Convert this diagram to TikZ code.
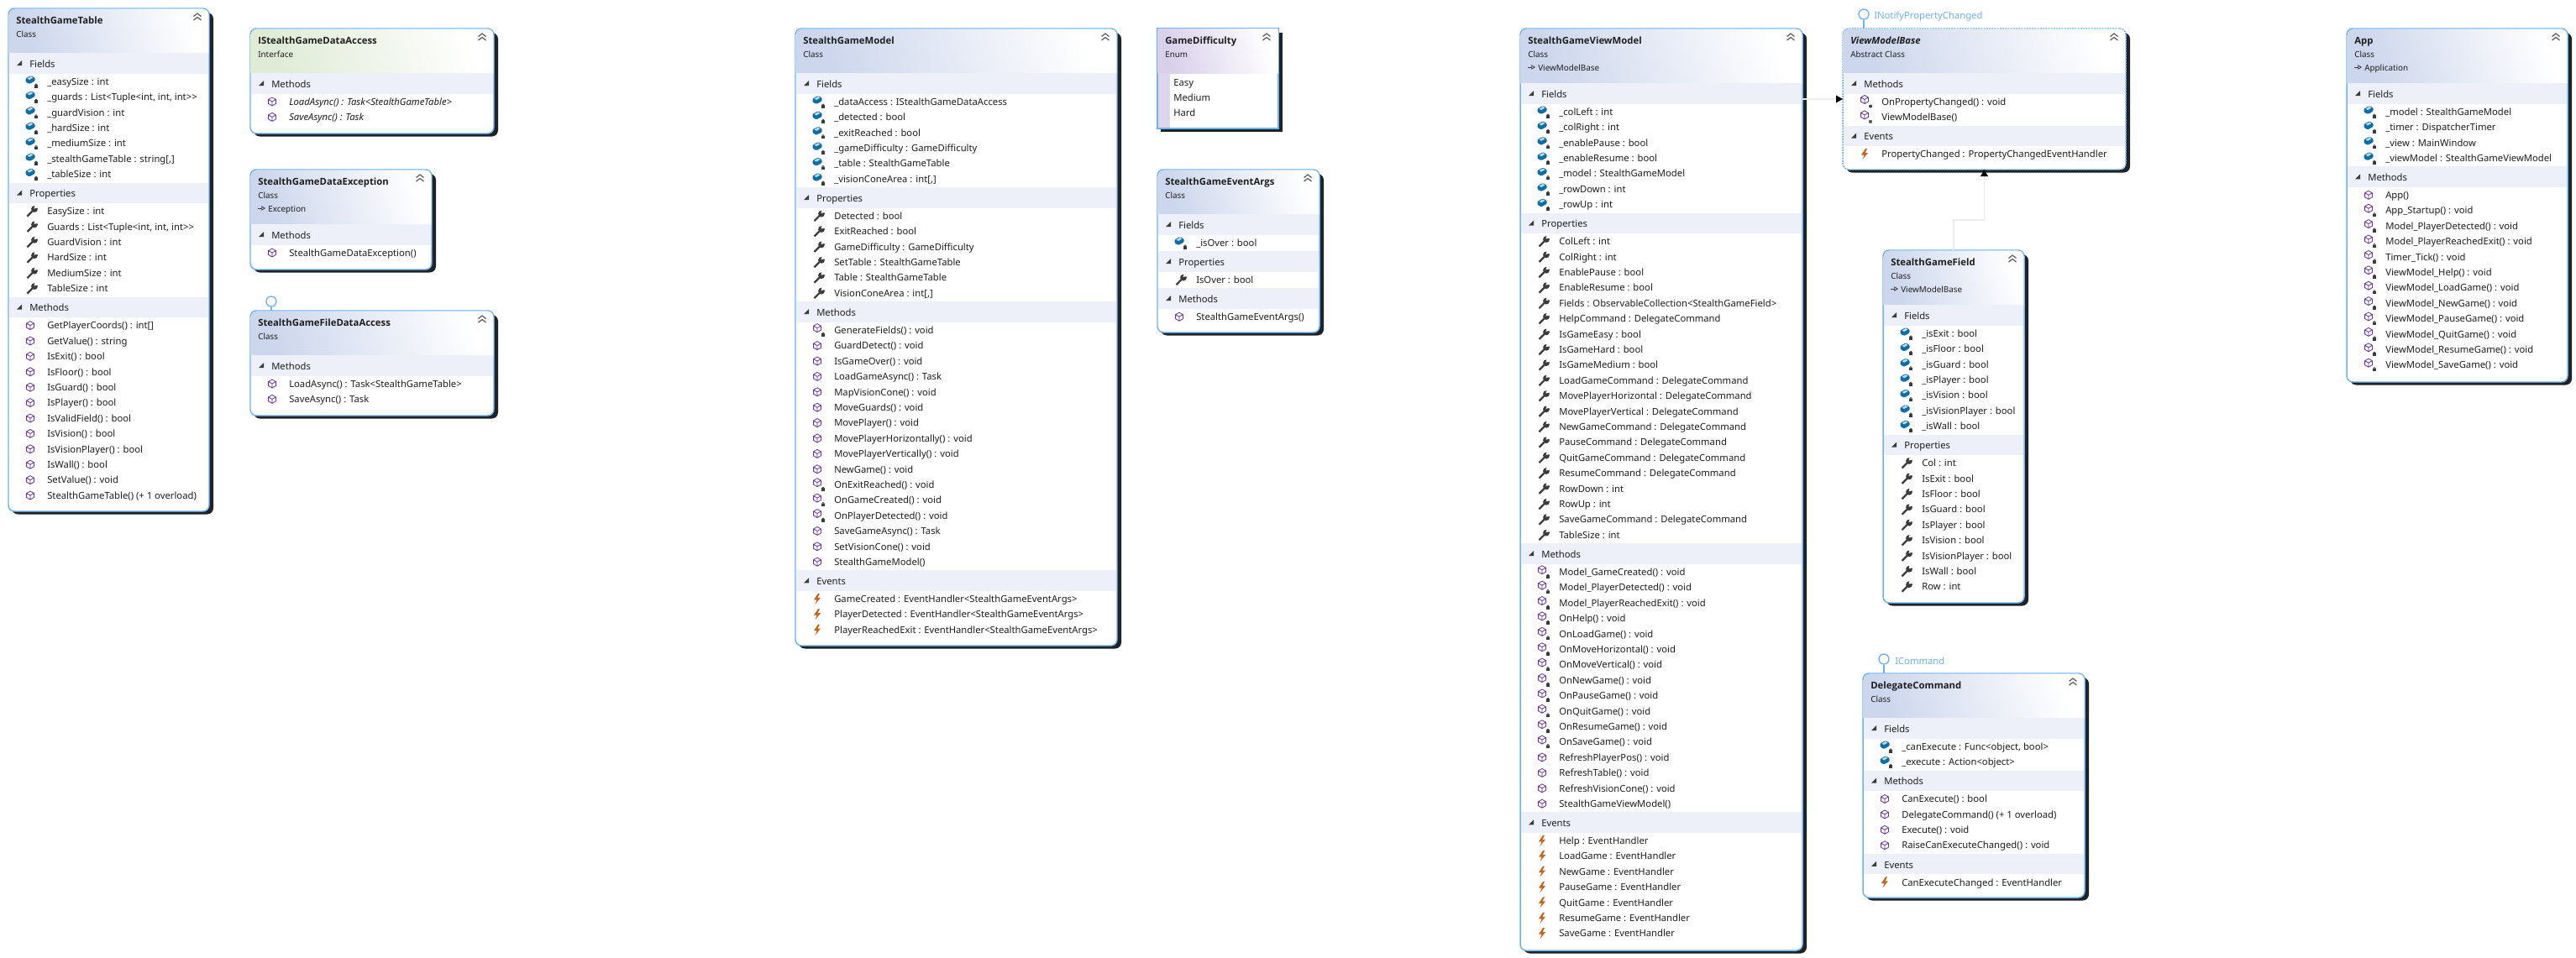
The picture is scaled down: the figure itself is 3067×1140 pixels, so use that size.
\documentclass[tikz,border=0pt]{standalone}
\usepackage{fontspec}
\setmainfont{Noto Sans}
\newfontfamily\titlefont{Open Sans}
\usetikzlibrary{arrows.meta}

\definecolor{bordercol}{HTML}{6CB2F7}
\definecolor{shadowcol}{HTML}{1F2328}
\definecolor{hdrblue}{HTML}{CCD6EC}
\definecolor{hdrgreen}{HTML}{DFEBD6}
\definecolor{hdrpurple}{HTML}{D8CFEA}
\definecolor{bandcol}{HTML}{EDF0F8}
\definecolor{inkcol}{HTML}{1E1E1E}
\definecolor{fldcol}{HTML}{0B6EA5}
\definecolor{mthcol}{HTML}{6A2FA0}
\definecolor{evtcol}{HTML}{C8641E}
\definecolor{toolcol}{HTML}{3C3C3C}
\definecolor{inhcol}{HTML}{ECECEC}

\tikzset{
  umlbody/.style={draw=bordercol,fill=white,line width=1.1pt,rounded corners=5.5pt,inner sep=0,outer sep=0},
  umlshadow/.style={fill=shadowcol,rounded corners=5.5pt},
  clipround/.style={rounded corners=5pt},
  hdrshade/.style={top color=white,bottom color=hdrblue,shading angle=-72},
  ifacebox/.style={hdrshade/.style={top color=white,bottom color=hdrgreen,shading angle=-72}},
  enumbox/.style={hdrshade/.style={top color=white,bottom color=hdrpurple,shading angle=-72},
    umlbody/.append style={sharp corners},umlshadow/.append style={sharp corners},clipround/.style={sharp corners}},
  dashbox/.style={umlbody/.append style={dash pattern=on 1.6pt off 0.8pt}},
  titletext/.style={anchor=west,inner sep=0,text height=7pt,text depth=2pt,text=inkcol,font=\fontsize{8.5}{10}\selectfont\titlefont\bfseries},
  kindtext/.style={anchor=west,inner sep=0,text height=6pt,text depth=1.5pt,text=inkcol,font=\fontsize{7.4}{9}\selectfont},
  bandtext/.style={anchor=west,inner sep=0,text height=6.8pt,text depth=2pt,text=inkcol,font=\fontsize{8.45}{10}\selectfont},
  rowtext/.style={anchor=west,inner sep=0,text height=6.8pt,text depth=2pt,text=inkcol,font=\fontsize{8.45}{10}\selectfont},
  chev/.style={draw=black!60,line width=1pt},
  lolly/.style={circle,draw=bordercol,fill=white,line width=1pt,minimum size=9pt,inner sep=0},
  lollystem/.style={draw=bordercol,line width=1pt},
  lollytext/.style={text=bordercol,inner sep=0,text height=6.8pt,text depth=2pt,font=\fontsize{8.45}{10}\selectfont},
  inherit/.style={draw=inhcol,line width=1pt,-{Triangle[length=6pt,width=6.5pt,color=black,fill=black]}},
}

\newcount\rowno
\newcommand{\icolock}{\fill[toolcol] (5.2,4) rectangle (8.8,7.6);
  \draw[toolcol,line width=.5pt] (7,4) circle[radius=1.2];}
\newcommand{\icohex}{\draw[mthcol,line width=.6pt] (0,-5) -- (4.4,-2.5) -- (4.4,2.5) -- (0,5) -- (-4.4,2.5) -- (-4.4,-2.5) -- cycle
  (-4.4,-2.5) -- (0,0) -- (4.4,-2.5) (0,0) -- (0,5);}
\newcommand{\icofld}{\fill[fldcol,rounded corners=.8pt] (-5.5,-3.5) -- (1,-7) -- (5.5,-4.5) -- (5.5,-.5) -- (-1,3) -- (-5.5,.5) -- cycle;
  \fill[white!75!fldcol] (-3.5,-3.5) -- (1,-6) -- (3.5,-4.5) -- (-1,-2) -- cycle; \icolock}
\newcommand{\icomth}{\icohex}
\newcommand{\icopm}{\begin{scope}[shift={(0,-2.5)}]\icohex\end{scope}\icolock}
\newcommand{\icosm}{\begin{scope}[shift={(0,-2.5)}]\icohex\end{scope}
  \draw[toolcol,line width=.6pt] (5,5.5) -- (9,5.5) (7,3.5) -- (7,7.5) (5.5,4) -- (8.5,7) (8.5,4) -- (5.5,7);}
\newcommand{\icoprop}{\draw[toolcol,line width=1.7pt] (-3.5,6) -- (3.5,-1);
  \fill[toolcol] (5,-2.5) circle[radius=3.9];
  \fill[white] (4.5,-3) -- (6,-8) -- (10.5,-4.5) -- cycle;}
\newcommand{\icoevt}{\fill[evtcol] (1,-6.5) -- (-4,1) -- (-.5,1) -- (-2.5,6.5) -- (4,-1.5) -- (.5,-1.5) -- (3,-6.5) -- cycle;}

\newcommand{\umlbox}[8][]{%
  \def\boxname{#2}\def\boxl{#3}\def\boxr{#5}%
  \if\relax\detokenize{#8}\relax\def\boxh{53}\else\def\boxh{65}\fi
  \begin{scope}[#1]
    \fill[umlshadow] (#3+4,#4+5) rectangle (#5+5,#6+3.5);
    \node[umlbody,minimum width={(#5-#3)*0.75pt},minimum height={(#6-#4)*0.75pt}] (#2) at ({(#3+#5)/2},{(#4+#6)/2}) {};
    \begin{scope}
      \clip[clipround] (#3+.7,#4+.7) rectangle (#5-.7,#6-.7);
      \shade[hdrshade] (#3,#4) rectangle (#5,#4+\boxh);
    \end{scope}
  \end{scope}
  \node[titletext] (#2-title) at (#3+9,#4+15.5) {#7};
  \node[kindtext] (#2-kind) at (#3+9,#4+31.5) {\umlkind};
  \if\relax\detokenize{#8}\relax\else
    \draw[toolcol,line width=.6pt,-{Triangle[open,length=3.5pt,width=4pt]}] (#3+9,#4+46) -- (#3+18,#4+46);
    \node[kindtext] (#2-base) at (#3+21,#4+47.5) {#8};
  \fi
  \draw[chev] (#5-18.5,#4+9.5) -- (#5-14,#4+6) -- (#5-9.5,#4+9.5) (#5-18.5,#4+14) -- (#5-14,#4+10.5) -- (#5-9.5,#4+14);
  \pgfmathsetmacro\nexty{#4+\boxh}\xdef\rowy{\nexty}%
}
\newcommand{\umlband}[1]{%
  \fill[bandcol] (\boxl+.7,\rowy) rectangle (\boxr-.7,\rowy+24.5);
  \fill[toolcol] (\boxl+16,\rowy+9) -- (\boxl+16,\rowy+15) -- (\boxl+10,\rowy+15) -- cycle;
  \global\advance\rowno by 1
  \node[bandtext] (\boxname-r\the\rowno) at (\boxl+25,\rowy+14) {#1};
  \pgfmathsetmacro\nexty{\rowy+24.5}\xdef\rowy{\nexty}%
}
\newcommand{\umlrows}[1]{%
  \foreach \ico/\txt in {#1}{
    \begin{scope}[shift={(\boxl+26,\rowy+9.5)}]\csname ico\ico\endcsname\end{scope}
    \global\advance\rowno by 1
    \node[rowtext] (\boxname-r\the\rowno) at (\boxl+46,\rowy+10.5) {\txt};
    \pgfmathsetmacro\nexty{\rowy+18.4}\xdef\rowy{\nexty}
  }
  \pgfmathsetmacro\nexty{\rowy+1.2}\xdef\rowy{\nexty}%
}
\def\umlkind{Class}

\begin{document}
\begin{tikzpicture}[x=0.75pt,y=-0.75pt]
\useasboundingbox (0,0) rectangle (3067,1140);

% data layer
\umlbox{gametable}{10}{10}{249}{609}{StealthGameTable}{}
\umlband{Fields}
\umlrows{fld/{\_easySize : int},fld/{\_guards : List<Tuple<int, int, int>{}>},fld/{\_guardVision : int},fld/{\_hardSize : int},fld/{\_mediumSize : int},fld/{\_stealthGameTable : string[,]},fld/{\_tableSize : int}}
\umlband{Properties}
\umlrows{prop/{EasySize : int},prop/{Guards : List<Tuple<int, int, int>{}>},prop/{GuardVision : int},prop/{HardSize : int},prop/{MediumSize : int},prop/{TableSize : int}}
\umlband{Methods}
\umlrows{mth/{GetPlayerCoords() : int[]},mth/{GetValue() : string},mth/{IsExit() : bool},mth/{IsFloor() : bool},mth/{IsGuard() : bool},mth/{IsPlayer() : bool},mth/{IsValidField() : bool},mth/{IsVision() : bool},mth/{IsVisionPlayer() : bool},mth/{IsWall() : bool},mth/{SetValue() : void},mth/{StealthGameTable() (+ 1 overload)}}

\def\umlkind{Interface}
\umlbox[ifacebox]{dataaccess}{298}{34}{588}{159}{IStealthGameDataAccess}{}
\umlband{Methods}
\umlrows{mth/{\textit{LoadAsync() : Task<StealthGameTable>}},mth/{\textit{SaveAsync() : Task}}}
\def\umlkind{Class}

\umlbox{dataexception}{298}{202}{514}{321}{StealthGameDataException}{Exception}
\umlband{Methods}
\umlrows{mth/{StealthGameDataException()}}

\umlbox{filedata}{298}{370}{588}{495}{StealthGameFileDataAccess}{}
\umlband{Methods}
\umlrows{mth/{LoadAsync() : Task<StealthGameTable>},mth/{SaveAsync() : Task}}
\node[lolly] (filelolly) at (323,359) {};
\draw[lollystem] (filelolly.south) -- (filelolly.south |- filedata.north);

% model layer
\umlbox{model}{947}{34}{1330}{769}{StealthGameModel}{}
\umlband{Fields}
\umlrows{fld/{\_dataAccess : IStealthGameDataAccess},fld/{\_detected : bool},fld/{\_exitReached : bool},fld/{\_gameDifficulty : GameDifficulty},fld/{\_table : StealthGameTable},fld/{\_visionConeArea : int[,]}}
\umlband{Properties}
\umlrows{prop/{Detected : bool},prop/{ExitReached : bool},prop/{GameDifficulty : GameDifficulty},prop/{SetTable : StealthGameTable},prop/{Table : StealthGameTable},prop/{VisionConeArea : int[,]}}
\umlband{Methods}
\umlrows{pm/{GenerateFields() : void},mth/{GuardDetect() : void},mth/{IsGameOver() : void},mth/{LoadGameAsync() : Task},mth/{MapVisionCone() : void},mth/{MoveGuards() : void},mth/{MovePlayer() : void},mth/{MovePlayerHorizontally() : void},mth/{MovePlayerVertically() : void},mth/{NewGame() : void},pm/{OnExitReached() : void},pm/{OnGameCreated() : void},pm/{OnPlayerDetected() : void},mth/{SaveGameAsync() : Task},mth/{SetVisionCone() : void},mth/{StealthGameModel()}}
\umlband{Events}
\umlrows{evt/{GameCreated : EventHandler<StealthGameEventArgs>},evt/{PlayerDetected : EventHandler<StealthGameEventArgs>},evt/{PlayerReachedExit : EventHandler<StealthGameEventArgs>}}

\def\umlkind{Enum}
\umlbox[enumbox]{difficulty}{1378}{34}{1522}{153}{GameDifficulty}{}
\def\umlkind{Class}
\fill[hdrpurple!85!white] (1378.7,87) rectangle (1393,152.3);
\foreach \y/\lbl in {99.5/Easy,117.5/Medium,135.5/Hard} {
  \node[rowtext] (difficulty-\lbl) at (1397,\y) {\lbl};
}

\umlbox{eventargs}{1378}{202}{1571}{396}{StealthGameEventArgs}{}
\umlband{Fields}
\umlrows{fld/{\_isOver : bool}}
\umlband{Properties}
\umlrows{prop/{IsOver : bool}}
\umlband{Methods}
\umlrows{mth/{StealthGameEventArgs()}}

% view model layer
\umlbox{viewmodel}{1810}{34}{2146}{1132}{StealthGameViewModel}{ViewModelBase}
\umlband{Fields}
\umlrows{fld/{\_colLeft : int},fld/{\_colRight : int},fld/{\_enablePause : bool},fld/{\_enableResume : bool},fld/{\_model : StealthGameModel},fld/{\_rowDown : int},fld/{\_rowUp : int}}
\umlband{Properties}
\umlrows{prop/{ColLeft : int},prop/{ColRight : int},prop/{EnablePause : bool},prop/{EnableResume : bool},prop/{Fields : ObservableCollection<StealthGameField>},prop/{HelpCommand : DelegateCommand},prop/{IsGameEasy : bool},prop/{IsGameHard : bool},prop/{IsGameMedium : bool},prop/{LoadGameCommand : DelegateCommand},prop/{MovePlayerHorizontal : DelegateCommand},prop/{MovePlayerVertical : DelegateCommand},prop/{NewGameCommand : DelegateCommand},prop/{PauseCommand : DelegateCommand},prop/{QuitGameCommand : DelegateCommand},prop/{ResumeCommand : DelegateCommand},prop/{RowDown : int},prop/{RowUp : int},prop/{SaveGameCommand : DelegateCommand},prop/{TableSize : int}}
\umlband{Methods}
\umlrows{pm/{Model\_GameCreated() : void},pm/{Model\_PlayerDetected() : void},pm/{Model\_PlayerReachedExit() : void},pm/{OnHelp() : void},pm/{OnLoadGame() : void},pm/{OnMoveHorizontal() : void},pm/{OnMoveVertical() : void},pm/{OnNewGame() : void},pm/{OnPauseGame() : void},pm/{OnQuitGame() : void},pm/{OnResumeGame() : void},pm/{OnSaveGame() : void},mth/{RefreshPlayerPos() : void},mth/{RefreshTable() : void},mth/{RefreshVisionCone() : void},mth/{StealthGameViewModel()}}
\umlband{Events}
\umlrows{evt/{Help : EventHandler},evt/{LoadGame : EventHandler},evt/{NewGame : EventHandler},evt/{PauseGame : EventHandler},evt/{QuitGame : EventHandler},evt/{ResumeGame : EventHandler},evt/{SaveGame : EventHandler}}

\def\umlkind{Abstract Class}
\umlbox[dashbox]{vmbase}{2194}{34}{2531}{202}{\textit{ViewModelBase}}{}
\def\umlkind{Class}
\umlband{Methods}
\umlrows{sm/{OnPropertyChanged() : void},sm/{ViewModelBase()}}
\umlband{Events}
\umlrows{evt/{PropertyChanged : PropertyChangedEventHandler}}
\node[lolly] (notifylolly) at (2219,17) {};
\draw[lollystem] (notifylolly.south) -- (notifylolly.south |- vmbase.north);
\node[lollytext,anchor=west] (notifytext) at (2231,19.5) {INotifyPropertyChanged};

\umlbox{gamefield}{2242}{298}{2410}{718}{StealthGameField}{ViewModelBase}
\umlband{Fields}
\umlrows{fld/{\_isExit : bool},fld/{\_isFloor : bool},fld/{\_isGuard : bool},fld/{\_isPlayer : bool},fld/{\_isVision : bool},fld/{\_isVisionPlayer : bool},fld/{\_isWall : bool}}
\umlband{Properties}
\umlrows{prop/{Col : int},prop/{IsExit : bool},prop/{IsFloor : bool},prop/{IsGuard : bool},prop/{IsPlayer : bool},prop/{IsVision : bool},prop/{IsVisionPlayer : bool},prop/{IsWall : bool},prop/{Row : int}}

\umlbox{delegatecmd}{2218}{802}{2482}{1069}{DelegateCommand}{}
\umlband{Fields}
\umlrows{fld/{\_canExecute : Func<object, bool>},fld/{\_execute : Action<object>}}
\umlband{Methods}
\umlrows{mth/{CanExecute() : bool},mth/{DelegateCommand() (+ 1 overload)},mth/{Execute() : void},mth/{RaiseCanExecuteChanged() : void}}
\umlband{Events}
\umlrows{evt/{CanExecuteChanged : EventHandler}}
\node[lolly] (cmdlolly) at (2243,785) {};
\draw[lollystem] (cmdlolly.south) -- (cmdlolly.south |- delegatecmd.north);
\node[lollytext,anchor=west] (cmdtext) at (2256,788.5) {ICommand};

\umlbox{app}{2794}{34}{3057}{455}{App}{Application}
\umlband{Fields}
\umlrows{fld/{\_model : StealthGameModel},fld/{\_timer : DispatcherTimer},fld/{\_view : MainWindow},fld/{\_viewModel : StealthGameViewModel}}
\umlband{Methods}
\umlrows{mth/{App()},pm/{App\_Startup() : void},pm/{Model\_PlayerDetected() : void},pm/{Model\_PlayerReachedExit() : void},pm/{Timer\_Tick() : void},pm/{ViewModel\_Help() : void},pm/{ViewModel\_LoadGame() : void},pm/{ViewModel\_NewGame() : void},pm/{ViewModel\_PauseGame() : void},pm/{ViewModel\_QuitGame() : void},pm/{ViewModel\_ResumeGame() : void},pm/{ViewModel\_SaveGame() : void}}

% inheritance
\coordinate (vmlevel) at (2170,118);
\coordinate (fieldbend) at (2344,262);
\draw[inherit] (viewmodel.east |- vmlevel) -- (vmbase.west |- vmlevel);
\draw[inherit] (gamefield.north) |- (fieldbend) -| (vmbase.south);
\end{tikzpicture}
\end{document}
